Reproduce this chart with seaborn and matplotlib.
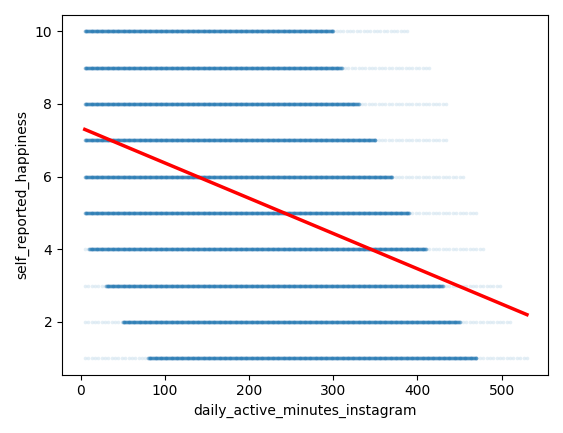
import numpy as np
import pandas as pd
import matplotlib
matplotlib.use("Agg")
import matplotlib.pyplot as plt
import seaborn as sns

levels = [10, 9, 8, 7, 6, 5, 4, 3, 2, 1]
dense_lo = [5, 5, 5, 5, 5, 5, 10, 30, 50, 80]
dense_hi = [300, 310, 330, 350, 370, 390, 410, 430, 450, 470]
tail_hi = [390, 415, 435, 435, 455, 470, 480, 500, 510, 530]
repeats = [4, 4, 4, 4, 4, 4, 4, 4, 4, 4]

# fitted regression line endpoints
line_x = [5, 530]
line_y = [7.3, 2.2]

rows = []
for lvl, lo, hi, th, rep in zip(levels, dense_lo, dense_hi, tail_hi, repeats):
    xs = list(range(5, lo, 4)) + list(range(lo, hi + 1)) * rep + list(range(hi, th + 1, 4))
    rows += [(x, lvl) for x in xs]
df = pd.DataFrame(rows, columns=["daily_active_minutes_instagram", "self_reported_happiness"])

fig, ax = plt.subplots(figsize=(5.63, 4.33), dpi=100)
sns.scatterplot(data=df, x="daily_active_minutes_instagram", y="self_reported_happiness",
                s=7, alpha=0.12, color="#1f77b4", edgecolor=None, linewidth=0, ax=ax)
sns.lineplot(x=line_x, y=line_y, color="red", linewidth=2.5, ax=ax)
ax.set_xlim(-22, 555)
ax.set_ylim(0.55, 10.45)
ax.set_xticks([0, 100, 200, 300, 400, 500])
ax.set_yticks([2, 4, 6, 8, 10])
plt.tight_layout()
plt.savefig("out.png", dpi=100)
